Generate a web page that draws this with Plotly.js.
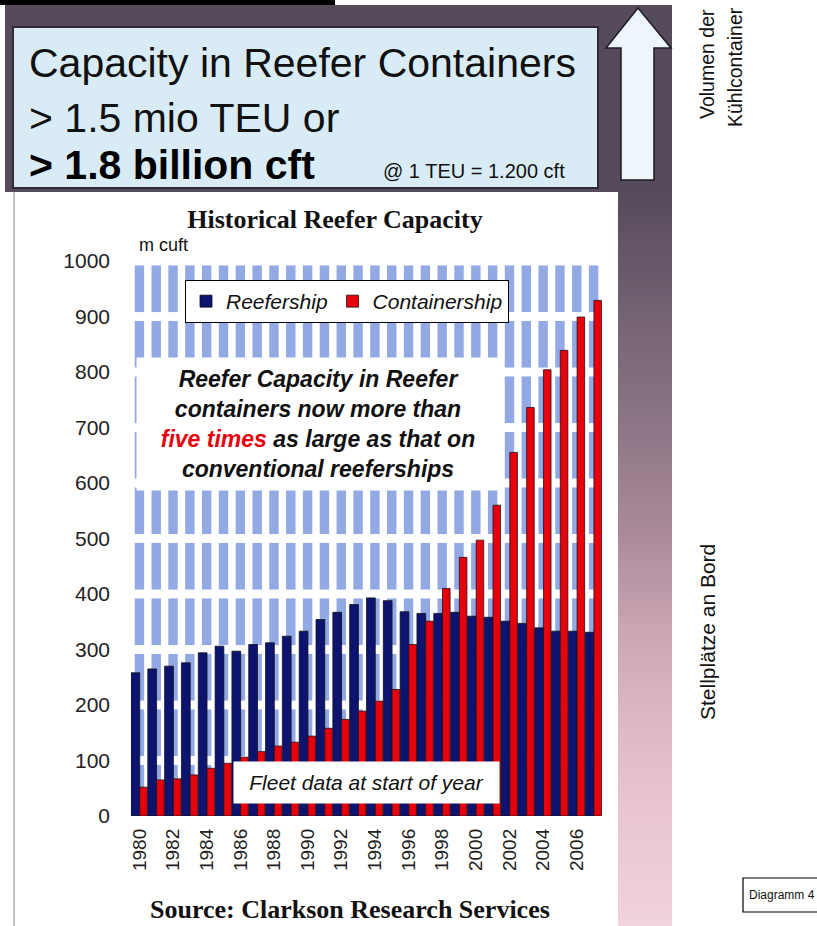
<!DOCTYPE html>
<html><head><meta charset="utf-8">
<script src="https://cdn.plot.ly/plotly-3.0.1.min.js"></script>
<style>html,body{margin:0;padding:0;background:#fff}#chart{width:817px;height:926px}</style>
</head><body><div id="chart"></div>
<script>
// ---- data ----
const years = [1980,1981,1982,1983,1984,1985,1986,1987,1988,1989,1990,1991,1992,1993,1994,1995,1996,1997,1998,1999,2000,2001,2002,2003,2004,2005,2006,2007];
const reefership = [258,265,270,276,294,306,297,309,312,324,333,354,367,381,393,388,368,365,365,367,360,358,351,347,339,333,333,331];
const containership = [52,65,67,74,86,95,106,116,126,133,144,158,174,189,207,228,309,351,410,466,497,560,655,736,804,839,899,929];
const xTickVals = [1980,1982,1984,1986,1988,1990,1992,1994,1996,1998,2000,2002,2004,2006];
const xTickText = ['1980','1982','1984','1986','1988','1990','1992','1994','1996','1998','2000','2002','2004','2006'];
const yTickVals = [0,100,200,300,400,500,600,700,800,900,1000];

// ---- geometry helpers (page px -> paper fraction) ----
const W=817,H=926,L=131,R=602,T=261,B=816;
const fx = p => (p-L)/(R-L);
const fy = p => (B-p)/(B-T);
const SANS = 'Liberation Sans, Arial, sans-serif';
const SERIF = 'Liberation Serif, Times New Roman, serif';

function rectP(x0,y0,x1,y1,fill,line){
  return {type:'rect',xref:'paper',yref:'paper',x0:fx(x0),x1:fx(x1),y0:fy(y1),y1:fy(y0),
    fillcolor:fill,line:line||{width:0},layer:'below'};
}
const shapes = [];
shapes.push(rectP(0,0,335,5,'#000'));
shapes.push(rectP(5,5,672,192,'#564a5d'));
// gradient strip on the right
const stops = [[192,[86,74,93]],[300,[112,96,112]],[420,[140,116,132]],[540,[172,140,156]],[640,[206,168,182]],[760,[228,190,203]],[926,[241,211,221]]];
function colAt(y){
  for(let i=0;i<stops.length-1;i++){
    const a=stops[i],b=stops[i+1];
    if(y>=a[0]&&y<=b[0]){const t=(y-a[0])/(b[0]-a[0]);
      return 'rgb('+a[1].map((v,j)=>Math.round(v+(b[1][j]-v)*t)).join(',')+')';}
  }
  return 'rgb(241,211,221)';
}
for(let y=192;y<926;y+=8){ shapes.push(rectP(618,y,672,Math.min(y+8.6,926),colAt(y+4))); }
shapes.push({type:'line',xref:'paper',yref:'paper',x0:fx(14),x1:fx(14),y0:fy(192),y1:fy(926),line:{color:'#9a9a9a',width:1.2},layer:'below'});
// header box
shapes.push(rectP(13,27,598,188,'#d9ecf6',{color:'#33283a',width:2}));
// arrow
const arrowPts = [[638,8],[671,48],[654,48],[654,180],[621,180],[621,48],[606,48]];
shapes.push({type:'path',xref:'paper',yref:'paper',
  path:'M'+arrowPts.map(p=>fx(p[0]).toFixed(5)+','+fy(p[1]).toFixed(5)).join(' L')+' Z',
  fillcolor:'#eef6fb',line:{color:'#1e1a22',width:1.5},layer:'below'});
// Diagramm box
shapes.push(rectP(743,878,818,912,'#fff',{color:'#000',width:1.2}));
// background stripes in plot area
years.forEach(yr=>{
  for(let k=0;k<10;k++){
    shapes.push({type:'rect',xref:'x',yref:'y',x0:yr-0.28,x1:yr+0.28,y0:k*100+8,y1:(k+1)*100-8,
      fillcolor:'#92a9e4',line:{width:0},layer:'below'});
  }
});

function ann(text,px,py,o){
  return Object.assign({text:text,xref:'paper',yref:'paper',x:fx(px),y:fy(py),showarrow:false,
    xanchor:'center',yanchor:'middle',font:{family:SANS,size:18,color:'#111'}},o||{});
}
const annotations = [
  ann('Capacity in Reefer Containers',27,63,{xanchor:'left',font:{family:SANS,size:41,color:'#111'}}),
  ann('&gt; 1.5 mio TEU or',27,118,{xanchor:'left',font:{family:SANS,size:41,color:'#111'}}),
  ann('<b>&gt; 1.8 billion cft</b>',27,165,{xanchor:'left',font:{family:SANS,size:41,color:'#000'}}),
  ann('@ 1 TEU = 1.200 cft',567,171,{xanchor:'right',font:{family:SANS,size:20,color:'#111'}}),
  ann('Volumen der',707,64,{textangle:-90,font:{family:SANS,size:19.5,color:'#111'}}),
  ann('Kühlcontainer',735,67,{textangle:-90,font:{family:SANS,size:19.5,color:'#111'}}),
  ann('Stellplätze an Bord',707,632,{textangle:-90,font:{family:SANS,size:21,color:'#111'}}),
  ann('Diagramm 4',747,895,{xanchor:'left',font:{family:SANS,size:12,color:'#111'}}),
  ann('m cuft',137,245,{xanchor:'left',font:{family:SANS,size:18,color:'#111'}}),
  ann('<b><i>Reefer Capacity in Reefer<br>containers now more than<br><span style="color:#e8000c">five times</span> as large as that on<br>conventional reeferships</i></b>',
    318,424,{width:360,height:130,bgcolor:'#fff',font:{family:SANS,size:23,color:'#111'}}),
  ann('<i>Fleet data at start of year</i>',366.5,782.5,{width:263,height:39,bgcolor:'#fff',font:{family:SANS,size:21,color:'#111'}}),
  ann('<b>Source: Clarkson Research Services</b>',350,909,{font:{family:SERIF,size:26,color:'#111'}})
];

const traces = [
  {type:'bar',name:'Reefership',x:years,y:reefership,width:0.52,offset:-0.5,
   marker:{color:'#0d1470',line:{color:'#101018',width:0.8}}},
  {type:'bar',name:'Containership',x:years,y:containership,width:0.45,offset:0.02,
   marker:{color:'#e8000c',line:{color:'#221016',width:0.8}}}
];

const layout = {
  width:W,height:H,margin:{l:L,r:W-R,t:T,b:H-B,pad:0},
  paper_bgcolor:'#fff',plot_bgcolor:'#fff',barmode:'overlay',
  title:{text:'<b>Historical Reefer Capacity</b>',font:{family:SERIF,size:26,color:'#111'},
    xref:'container',yref:'container',x:335/W,xanchor:'center',y:1-219/H,yanchor:'middle'},
  xaxis:{range:[1979.5,2007.5],tickmode:'array',tickvals:xTickVals,ticktext:xTickText,tickangle:-90,
    tickfont:{family:SANS,size:19,color:'#222'},showgrid:false,zeroline:false,showline:false,ticks:'',ticklabelstandoff:8,fixedrange:true},
  yaxis:{range:[0,1000],tickmode:'array',tickvals:yTickVals,tickfont:{family:SANS,size:21,color:'#222'},
    showgrid:false,zeroline:false,showline:false,ticks:'',ticklabelstandoff:20,fixedrange:true},
  legend:{x:fx(185),y:fy(280),xanchor:'left',yanchor:'top',orientation:'h',bgcolor:'#fff',bordercolor:'#000',borderwidth:1,
    font:{family:SANS,size:21,style:'italic',color:'#111'},traceorder:'normal'},
  shapes:shapes,annotations:annotations
};
Plotly.newPlot('chart',traces,layout,{displayModeBar:false,staticPlot:true});
</script></body></html>
